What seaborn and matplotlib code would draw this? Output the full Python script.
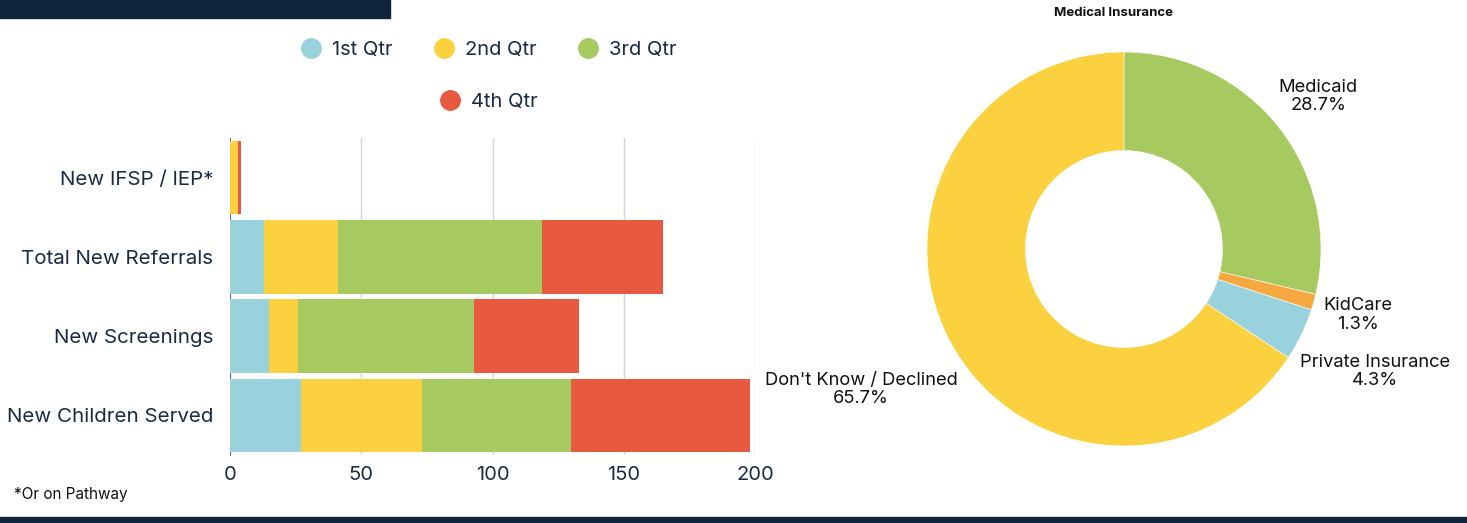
import numpy as np
import matplotlib
matplotlib.use("Agg")
import matplotlib.pyplot as plt
import seaborn as sns
from matplotlib.lines import Line2D
from matplotlib.patches import Rectangle

# bar chart data
categories = ["New IFSP / IEP*", "Total New Referrals", "New Screenings", "New Children Served"]
quarters = ["1st Qtr", "2nd Qtr", "3rd Qtr", "4th Qtr"]
q1 = [0, 13, 15, 27]
q2 = [3, 28, 11, 46]
q3 = [0, 78, 67, 57]
q4 = [1, 46, 40, 68]
xticks = [0, 50, 100, 150, 200]

# donut data
ins_labels = ["Medicaid", "KidCare", "Private Insurance", "Don't Know / Declined"]
ins_pct = [28.7, 1.3, 4.3, 65.7]

q_colors = ["#99d1dc", "#fbd13f", "#a6ca60", "#e85a40"]
ins_colors = ["#a6ca60", "#f5a840", "#99d1dc", "#fbd13f"]
navy = "#10243e"
txt = "#1b2a44"

sns.set_style("white")
plt.rcParams["font.family"] = ["Inter", "DejaVu Sans"]

fig = plt.figure(figsize=(14.67, 5.23), dpi=100)
W, H = 1467, 523

# decorative bars
fig.patches.append(Rectangle((0, 1 - 18 / H), 390 / W, 18 / H, transform=fig.transFigure, color=navy, zorder=0))
fig.patches.append(Rectangle((0, 0), 1, 6 / H, transform=fig.transFigure, color=navy, zorder=0))

# stacked horizontal bars
ax = fig.add_axes([230 / W, 1 - 455 / H, 525 / W, 317 / H])
series = [q1, q2, q3, q4]
cum = np.cumsum(np.array(series), axis=0)
for i in range(3, -1, -1):
    sns.barplot(x=cum[i], y=categories, color=q_colors[i], orient="h", width=0.93,
                saturation=1, linewidth=0, ax=ax, zorder=3)
ax.set_xlim(0, 200)
ax.set_ylim(3.5, -0.5)
ax.set_xticks(xticks)
ax.xaxis.grid(True, color="#d6d6d6", linewidth=1, zorder=0)
ax.set_axisbelow(True)
for s in ["top", "right", "bottom"]:
    ax.spines[s].set_visible(False)
ax.spines["left"].set_color("#555555")
ax.spines["left"].set_linewidth(0.6)
ax.tick_params(axis="both", length=0, labelcolor=txt)
ax.tick_params(axis="x", pad=8, labelsize=14.5)
ax.tick_params(axis="y", pad=12, labelsize=14.8)
ax.set_xlabel("")
ax.set_ylabel("")

# legend (3 + 1 layout)
handles = [Line2D([], [], marker="o", linestyle="", markersize=14, color=c) for c in q_colors]
fig.legend(handles[:3], quarters[:3], loc="center", bbox_to_anchor=(484 / W, 1 - 50 / H),
           ncol=3, frameon=False, fontsize=14.5, handletextpad=0.05, columnspacing=1.55,
           labelcolor=txt)
fig.legend(handles[3:], quarters[3:], loc="center", bbox_to_anchor=(484 / W, 1 - 102 / H),
           frameon=False, fontsize=14.5, handletextpad=0.05, labelcolor=txt)

fig.text(14 / W, 1 - 495 / H, "*Or on Pathway", fontsize=11, color="#111111", va="center")

# donut
R = 197
pax = fig.add_axes([(1124 - R) / W, 1 - (249 + R) / H, 2 * R / W, 2 * R / H])
wedges, _ = pax.pie(ins_pct, colors=ins_colors, startangle=90, counterclock=False,
                    wedgeprops=dict(width=0.5, linewidth=0.4, edgecolor="white"), radius=1)
pax.set_xlim(-1, 1)
pax.set_ylim(-1, 1)
pax.set_aspect("equal")
pax.axis("off")
label_rx = [1.0, 1.05, 0.99, 0.96]
label_ry = [1.25, 1.24, 1.43, 1.51]
for w, lab, p, rx, ry in zip(wedges, ins_labels, ins_pct, label_rx, label_ry):
    ang = np.deg2rad((w.theta1 + w.theta2) / 2)
    x, y = np.cos(ang) * rx, np.sin(ang) * ry
    pax.text(x, y, f"{lab}\n{p}%", ha="left" if x > 0 else "right", va="center",
             multialignment="center", fontsize=13.2, color="#111111", linespacing=1.1,
             clip_on=False)

fig.text(1114 / W, 1 - 13 / H, "Medical Insurance", fontsize=9.5, fontweight="bold",
         ha="center", va="center", color="#111111")

fig.savefig("out.png", dpi=100)
